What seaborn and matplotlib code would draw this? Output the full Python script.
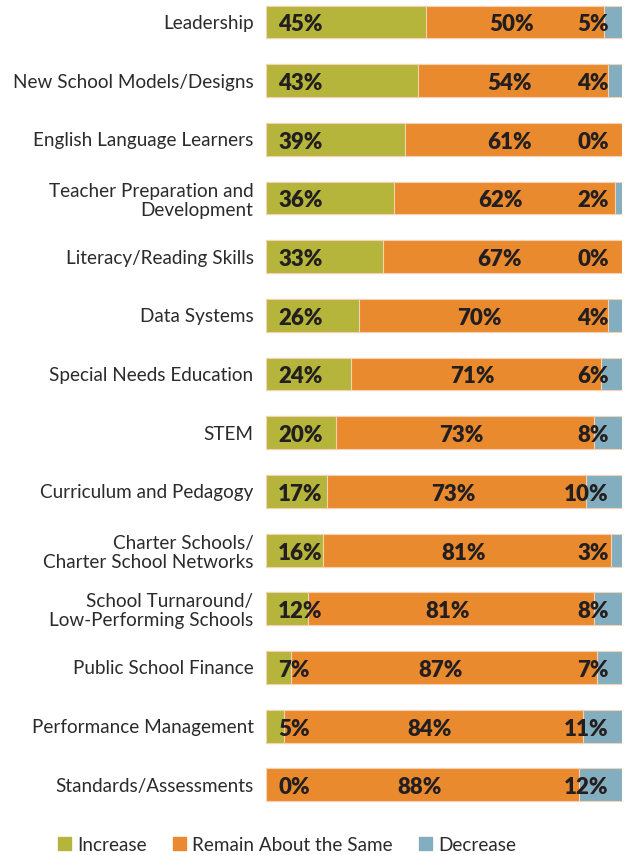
import pandas as pd
import seaborn as sns
import matplotlib.pyplot as plt
from matplotlib.patches import Patch

# data (percent of respondents)
categories = [
    "Leadership",
    "New School Models/Designs",
    "English Language Learners",
    "Teacher Preparation and\nDevelopment",
    "Literacy/Reading Skills",
    "Data Systems",
    "Special Needs Education",
    "STEM",
    "Curriculum and Pedagogy",
    "Charter Schools/\nCharter School Networks",
    "School Turnaround/\nLow-Performing Schools",
    "Public School Finance",
    "Performance Management",
    "Standards/Assessments",
]
increase = [45, 43, 39, 36, 33, 26, 24, 20, 17, 16, 12, 7, 5, 0]
same = [50, 54, 61, 62, 67, 70, 71, 73, 73, 81, 81, 87, 84, 88]
decrease = [5, 4, 0, 2, 0, 4, 6, 8, 10, 3, 8, 7, 11, 12]
series_names = ["Increase", "Remain About the Same", "Decrease"]

GREEN = "#B4B53A"
ORANGE = "#EA8A2E"
BLUE = "#82AEBF"
EDGE = "#F6D2B4"
TXT = "#231F20"

df = pd.DataFrame({"cat": categories, "inc": increase, "same": same, "dec": decrease})
# bars are scaled to 100% so they all end at the same right edge
tot = df["inc"] + df["same"] + df["dec"]
df["c1"] = df["inc"] / tot * 100
df["c2"] = (df["inc"] + df["same"]) / tot * 100
df["c3"] = 100.0

sns.set_style("white")
plt.rcParams["font.family"] = ["Lato", "DejaVu Sans"]

fig = plt.figure(figsize=(6.33, 8.55), dpi=100)
ax = fig.add_axes([266 / 633, 1 - 810 / 855, 356 / 633, 810 / 855])

# stack drawn back to front
for col, color in [("c3", BLUE), ("c2", ORANGE), ("c1", GREEN)]:
    sns.barplot(data=df, x=col, y="cat", orient="h", color=color, width=0.56,
                edgecolor=EDGE, linewidth=0.8, saturation=1, ax=ax)

ax.set_xlim(0, 100)
ax.set_ylim(13.43, -0.375)
ax.set_xlabel("")
ax.set_ylabel("")
ax.set_xticks([])
sns.despine(ax=ax, left=True, bottom=True)
ax.tick_params(axis="y", length=0, pad=9)
for lab in ax.get_yticklabels():
    lab.set_fontsize(13.6)
    lab.set_color("#2B2B2B")
    lab.set_linespacing(1.15)

# percentage labels
for i, row in df.iterrows():
    kw = dict(va="center", fontsize=16, fontweight="heavy", color=TXT)
    ax.text(3.4, i + 0.05, f"{row['inc']}%", ha="left", **kw)
    ax.text((row["c1"] + row["c2"]) / 2 - 1, i + 0.05, f"{row['same']}%", ha="center", **kw)
    ax.text(96.3, i + 0.05, f"{row['dec']}%", ha="right", **kw)

handles = [Patch(color=c) for c in (GREEN, ORANGE, BLUE)]
fig.legend(handles, series_names, loc="center left", bbox_to_anchor=(58 / 633, 1 - 845 / 855),
           ncol=3, frameon=False, fontsize=13.6, handlelength=0.68, handleheight=0.68,
           handletextpad=0.32, columnspacing=1.4, borderpad=0, borderaxespad=0,
           labelcolor="#2B2B2B")

fig.savefig("out.png", dpi=100)
